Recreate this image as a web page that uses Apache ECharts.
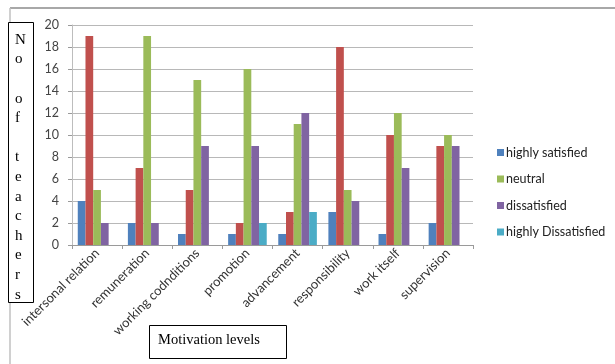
<!DOCTYPE html>
<html>
<head>
<meta charset="utf-8">
<script src="https://cdn.jsdelivr.net/npm/echarts@6/dist/echarts.min.js"></script>
<style>html,body{margin:0;padding:0;background:#fff}#c{width:615px;height:364px}</style>
</head>
<body>
<div id="c"></div>
<script>
const categories = ['intersonal relation','remuneration','working codnditions','promotion','advancement','responsibility','work itself','supervision'];
const highlySatisfied = [4, 2, 1, 1, 1, 3, 1, 2];
const satisfied = [19, 7, 5, 2, 3, 18, 10, 9];
const neutral = [5, 19, 15, 16, 11, 5, 12, 10];
const dissatisfied = [2, 2, 9, 9, 12, 4, 7, 9];
const highlyDissatisfied = [0, 0, 0, 2, 3, 0, 0, 0];
const yTicks = [0, 2, 4, 6, 8, 10, 12, 14, 16, 18, 20];
const legendNames = ['highly satisfied', 'neutral', 'dissatisfied', 'highly Dissatisfied'];
const yTitleLines = ['N','o','','o','f','','t','e','a','c','h','e','r','s'];
const xTitle = 'Motivation levels';

const chart = echarts.init(document.getElementById('c'), null, {renderer: 'canvas'});
const mk = (name, data, color) => ({
  name, type: 'bar', data, barGap: '0%', barCategoryGap: '23%',
  itemStyle: {color}, animation: false
});
chart.setOption({
  animation: false,
  grid: {left: 72, right: 142, top: 25, bottom: 119},
  legend: {
    data: legendNames, orient: 'vertical', left: 492, top: 141,
    itemWidth: 7, itemHeight: 7, itemGap: 13.5, icon: 'rect',
    textStyle: {fontFamily: 'Lato', fontSize: 12.5, color: '#222', padding: [0,0,0,-3]}
  },
  xAxis: {
    type: 'category', data: categories,
    axisLine: {lineStyle: {color: '#9a9a9a'}},
    axisTick: {show: true, length: 4, lineStyle: {color: '#9a9a9a'}},
    axisLabel: {rotate: 45, interval: 0, margin: 6, fontFamily: 'Lato', fontSize: 13, color: '#333'}
  },
  yAxis: {
    type: 'value', min: yTicks[0], max: yTicks[yTicks.length-1], interval: 2,
    axisLine: {show: true, lineStyle: {color: '#bdbdbd'}},
    axisTick: {show: true, length: 4, lineStyle: {color: '#9a9a9a'}},
    splitLine: {lineStyle: {color: '#b8b8b8'}},
    axisLabel: {fontFamily: 'Lato', fontSize: 12.5, color: '#444', margin: 13}
  },
  series: [
    mk('highly satisfied', highlySatisfied, '#4F81BD'),
    mk('satisfied', satisfied, '#C0504D'),
    mk('neutral', neutral, '#9BBB59'),
    mk('dissatisfied', dissatisfied, '#8064A2'),
    mk('highly Dissatisfied', highlyDissatisfied, '#4BACC6')
  ],
  graphic: [
    {type: 'line', shape: {x1: 10, y1: 8, x2: 615, y2: 8}, style: {stroke: '#a8a8a8', lineWidth: 2}},
    {type: 'line', shape: {x1: 10, y1: 8, x2: 10, y2: 364}, style: {stroke: '#c0c0c0', lineWidth: 1.5}},
    {type: 'rect', shape: {x: 8.5, y: 22.5, width: 25, height: 280}, style: {fill: '#fff', stroke: '#000', lineWidth: 1}},
    {type: 'text', left: 15, top: 30, style: {
      text: yTitleLines.join('\n'), fontFamily: 'Liberation Serif', fontSize: 15,
      lineHeight: 19.6, fill: '#000', align: 'center', width: 12
    }},
    {type: 'rect', shape: {x: 149.5, y: 325.5, width: 137, height: 33}, style: {fill: '#fff', stroke: '#000', lineWidth: 1}},
    {type: 'text', left: 158, top: 333, style: {text: xTitle, fontFamily: 'Liberation Serif', fontSize: 14.5, fill: '#000'}}
  ]
});
</script>
</body>
</html>
